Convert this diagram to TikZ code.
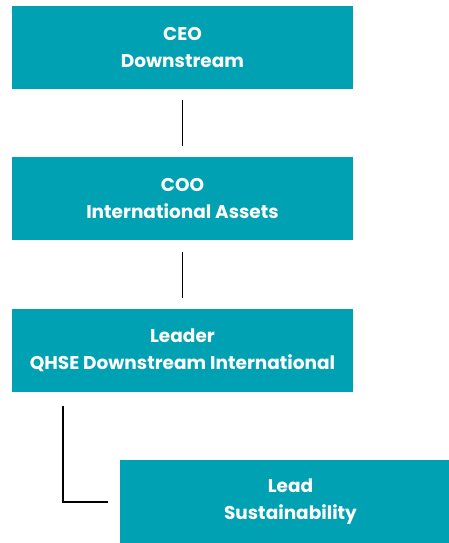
\documentclass[tikz,border=0pt]{standalone}
\usepackage{fontspec}
\setmainfont{Poppins}
\usepackage{xcolor}
\usetikzlibrary{positioning}
\definecolor{orgteal}{RGB}{0,161,178}

\begin{document}
\begin{tikzpicture}[
        post/.style={fill=orgteal, text=white, minimum width=341pt, minimum height=83pt,
            inner sep=0pt, align=center, font=\bfseries\fontsize{18.5}{27}\selectfont},
        link/.style={line width=1.6pt, black}
    ]
        \useasboundingbox (0,0) rectangle (448pt,-543pt);
        % Boxes
        \node[post] (ceo) at (182.5pt,-47.5pt) {CEO\\Downstream};
        \node[post, below=68pt of ceo] (coo) {COO\\International Assets};
        \node[post, below=68pt of coo] (leader) {Leader\\QHSE Downstream International};
        \node[post, anchor=north west] (lead) at ([xshift=108pt, yshift=-68pt]leader.south west) {Lead\\Sustainability};
        % Add links
        \draw[link, shorten <=11pt, shorten >=11pt] (ceo) -- (coo);
        \draw[link, shorten <=11pt, shorten >=11pt] (coo) -- (leader);
        \draw[link, shorten <=14pt, shorten >=12pt] ([xshift=51pt]leader.south west) |- (lead.west);
    \end{tikzpicture}
\end{document}
